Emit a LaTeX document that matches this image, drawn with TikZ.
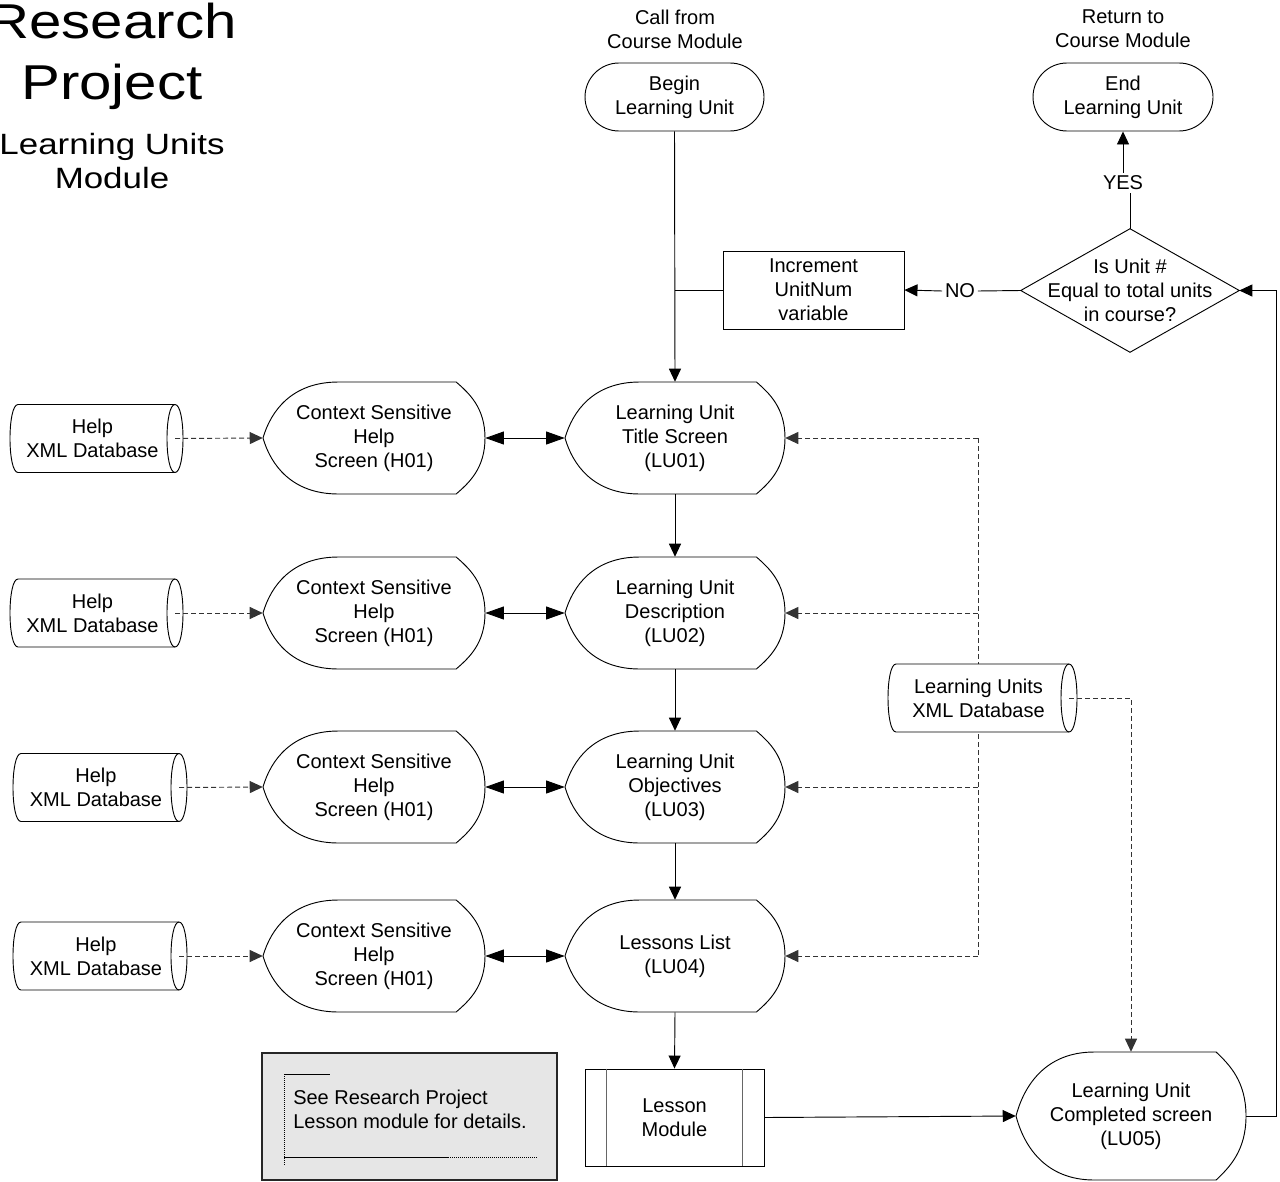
\documentclass[tikz,border=0pt]{standalone}
\usepackage{fontspec}
\setmainfont{Liberation Sans}
\usetikzlibrary{arrows.meta,calc}
\definecolor{notegray}{RGB}{230,230,230}

% Display shape: pointed curved left side, rounded right side
\newcommand\dispnode[6]{%
  \pgfmathsetmacro\dL{#2-#4/2}%
  \pgfmathsetmacro\dR{#2+#4/2}%
  \pgfmathsetmacro\dT{#3-#5/2}%
  \pgfmathsetmacro\dB{#3+#5/2}%
  \pgfmathsetmacro\dA{\dL+0.34*#4}%
  \pgfmathsetmacro\dC{\dR-0.13*#4}%
  \pgfmathsetmacro\dAc{\dA-0.62*(\dA-\dL)}%
  \pgfmathsetmacro\dLc{\dL+0.035*#4}%
  \pgfmathsetmacro\dCc{\dC+0.45*(\dR-\dC)}%
  \pgfmathsetmacro\dUa{#3-0.24*#5}%
  \pgfmathsetmacro\dLa{#3+0.24*#5}%
  \pgfmathsetmacro\dUr{#3-0.27*#5}%
  \pgfmathsetmacro\dLr{#3+0.27*#5}%
  \pgfmathsetmacro\dTr{\dT+0.1*#5}%
  \pgfmathsetmacro\dBr{\dB-0.1*#5}%
  \draw[shp] (\dA,\dT) -- (\dC,\dT) .. controls (\dCc,\dTr) and (\dR,\dUr) .. (\dR,#3)
     .. controls (\dR,\dLr) and (\dCc,\dBr) .. (\dC,\dB) -- (\dA,\dB)
     .. controls (\dAc,\dB) and (\dLc,\dLa) .. (\dL,#3)
     .. controls (\dLc,\dUa) and (\dAc,\dT) .. (\dA,\dT) -- cycle;
  \node[minimum width={#4*0.75pt}, minimum height={#5*0.75pt}] (#1) at (#2,#3) {#6};
}

% Stored data: horizontal cylinder with its end cap on the right
\newcommand\cylnode[6]{%
  \pgfmathsetmacro\cL{#2-#4/2+8}%
  \pgfmathsetmacro\cR{#2+#4/2-8}%
  \pgfmathsetmacro\cT{#3-#5/2}%
  \pgfmathsetmacro\cB{#3+#5/2}%
  \pgfmathsetmacro\cLo{\cL-10.67}%
  \pgfmathsetmacro\cRo{\cR+10.67}%
  \pgfmathsetmacro\cRi{\cR-10.67}%
  \pgfmathsetmacro\cX{#2-4}%
  \draw[shp] (\cL,\cT) -- (\cR,\cT) .. controls (\cRo,\cT) and (\cRo,\cB) .. (\cR,\cB)
     -- (\cL,\cB) .. controls (\cLo,\cB) and (\cLo,\cT) .. (\cL,\cT) -- cycle;
  \draw[shp,fill=none] (\cR,\cT) .. controls (\cRi,\cT) and (\cRi,\cB) .. (\cR,\cB);
  \node[minimum width={(#4-8)*0.75pt}, minimum height={#5*0.75pt}] (#1) at (\cX,#3) {#6};
  \coordinate (#1-cap) at (\cR,#3);
}

\begin{document}
\begin{tikzpicture}[x=0.75pt,y=-0.75pt,
  every node/.style={font=\fontsize{15}{18}\selectfont, align=center, inner sep=0pt},
  shp/.style={draw=black, line width=0.7pt, fill=white},
  term/.style={shp, rectangle, rounded corners=25.5pt, minimum width=134.25pt, minimum height=51pt},
  procbox/.style={shp, rectangle, minimum width=135.75pt, minimum height=58.5pt},
  conn/.style={draw=black, line width=0.7pt},
  arr/.style={conn, -{Triangle[length=9.75pt,width=9pt]}},
  darr/.style={conn, {Triangle[length=14pt,width=9.75pt]}-{Triangle[length=14pt,width=9.75pt]}},
  dsh/.style={draw=black!80, line width=0.7pt, dash pattern=on 3.75pt off 2.25pt},
  darrow/.style={dsh, -{Triangle[length=9.75pt,width=9pt]}},
  lbl/.style={fill=white, inner sep=2pt},
]
\useasboundingbox (0,0) rectangle (1280,1181);

% Title block
\node[anchor=base, font=\fontsize{36.7}{44}\selectfont] (title1) at (112,39) {\scalebox{1.19}[1]{Research}};
\node[anchor=base, font=\fontsize{36.7}{44}\selectfont] (title2) at (112,99) {\scalebox{1.19}[1]{Project}};
\node[anchor=base, font=\fontsize{22}{26}\selectfont] (sub1) at (112,154) {\scalebox{1.19}[1]{Learning Units}};
\node[anchor=base, font=\fontsize{22}{26}\selectfont] (sub2) at (112,188) {\scalebox{1.19}[1]{Module}};

% Entry and exit
\node (callLbl) at (675,29) {Call from\\Course Module};
\node (retLbl) at (1123,29) {Return to\\Course Module};
\node[term] (beginU) at (674.5,97) {Begin\\Learning Unit};
\node[term, minimum width=135pt] (endU) at (1123,97) {End\\Learning Unit};

% Loop control
\node[procbox] (inc) at (813.5,290) {Increment\\UnitNum\\variable};
\node[minimum width=163.5pt, minimum height=92.25pt] (dia) at (1130,290.5) {Is Unit \#\\Equal to total units\\in course?};
\draw[shp, fill=none] (dia.north) -- (dia.east) -- (dia.south) -- (dia.west) -- cycle;

% Screens of the unit
\dispnode{lu1}{675}{438}{220}{112}{Learning Unit\\Title Screen\\(LU01)}
\dispnode{lu2}{675}{613}{220}{112}{Learning Unit\\Description\\(LU02)}
\dispnode{lu3}{675}{787}{220}{112}{Learning Unit\\Objectives\\(LU03)}
\dispnode{lu4}{675}{956}{220}{112}{Lessons List\\(LU04)}
\dispnode{lu5}{1131}{1116}{230}{128}{Learning Unit\\Completed screen\\(LU05)}

% Help screens
\dispnode{hs1}{374}{438}{222}{112}{Context Sensitive\\Help\\Screen (H01)}
\dispnode{hs2}{374}{613}{222}{112}{Context Sensitive\\Help\\Screen (H01)}
\dispnode{hs3}{374}{787}{222}{112}{Context Sensitive\\Help\\Screen (H01)}
\dispnode{hs4}{374}{956}{222}{112}{Context Sensitive\\Help\\Screen (H01)}

% Help databases
\cylnode{hdb1}{96.5}{438.5}{173}{68}{Help\\XML Database}
\cylnode{hdb2}{96.5}{613}{173}{68}{Help\\XML Database}
\cylnode{hdb3}{100}{787.5}{174}{68}{Help\\XML Database}
\cylnode{hdb4}{100}{956}{174}{68}{Help\\XML Database}

% Lesson module (predefined process)
\node[shp, minimum width=134.25pt, minimum height=72.75pt] (lesson) at (674.5,1117.5) {Lesson\\Module};
\draw[draw=black!60, line width=0.7pt] ($(lesson.north west)+(22,0)$) -- ($(lesson.south west)+(22,0)$);
\draw[draw=black!60, line width=0.7pt] ($(lesson.north east)+(-22,0)$) -- ($(lesson.south east)+(-22,0)$);

% Annotation
\node[draw=black!85, line width=1.5pt, fill=notegray, minimum width=221.25pt, minimum height=95.25pt] (note) at (409.5,1116.5) {};
\draw[black, line width=0.5pt, dash pattern=on 0.75pt off 0.75pt] ($(note.north west)+(23,22)$) -- ($(note.north west)+(23,114)$);
\draw[black, line width=0.6pt] ($(note.north west)+(23,22)$) -- ($(note.north west)+(69,22)$);
\draw[black, line width=0.6pt] ($(note.north west)+(23,105)$) -- ($(note.north west)+(187,105)$);
\draw[black, line width=0.5pt, dash pattern=on 0.75pt off 0.75pt] ($(note.north west)+(187,105)$) -- ($(note.north west)+(276,105)$);
\node[anchor=west, align=left] (noteText) at ($(note.north west)+(32,57)$) {See Research Project\\Lesson module for details.};

% Main flow
\draw[arr] (beginU.south) -- (lu1.north);
\draw[conn] (inc.west) -- (inc.west -| beginU.south);
\draw[arr] (lu1.south) -- (lu2.north);
\draw[arr] (lu2.south) -- (lu3.north);
\draw[arr] (lu3.south) -- (lu4.north);
\draw[arr] (lu4.south) -- (lesson.north);
\draw[arr] (lesson.east) -- (lu5.west);
\draw[arr] (lu5.east) -- ++(30,0) |- (dia.east);

% Decision outcomes
\node[lbl] (no) at (960,291) {NO};
\draw[conn] (dia.west) -- (no.east);
\draw[arr] (no.west) -- (inc.east);
\node[lbl] (yes) at (1123,183) {YES};
\draw[conn] (dia.north) -- (dia.north |- yes.south);
\draw[arr] (endU.south |- yes.north) -- (endU.south);

% Help links
\foreach \i in {1,2,3,4} {
  \draw[darr] (hs\i.east) -- (lu\i.west);
  \draw[darrow] (hdb\i-cap) -- (hs\i.west);
}

% Learning units database feeds
\coordinate (busT) at (978,438);
\coordinate (busB) at (978,956);
\draw[dsh] (busT) -- (busB);
\draw[darrow] (busT) -- (lu1.east);
\draw[darrow] (lu2.east -| busT) -- (lu2.east);
\draw[darrow] (lu3.east -| busT) -- (lu3.east);
\draw[darrow] (lu4.east -| busT) -- (lu4.east);
\cylnode{ludb}{982.5}{698}{189}{68}{Learning Units\\XML Database}
\draw[darrow] (ludb-cap) -- (ludb-cap -| lu5.north) -- (lu5.north);

\end{tikzpicture}
\end{document}
